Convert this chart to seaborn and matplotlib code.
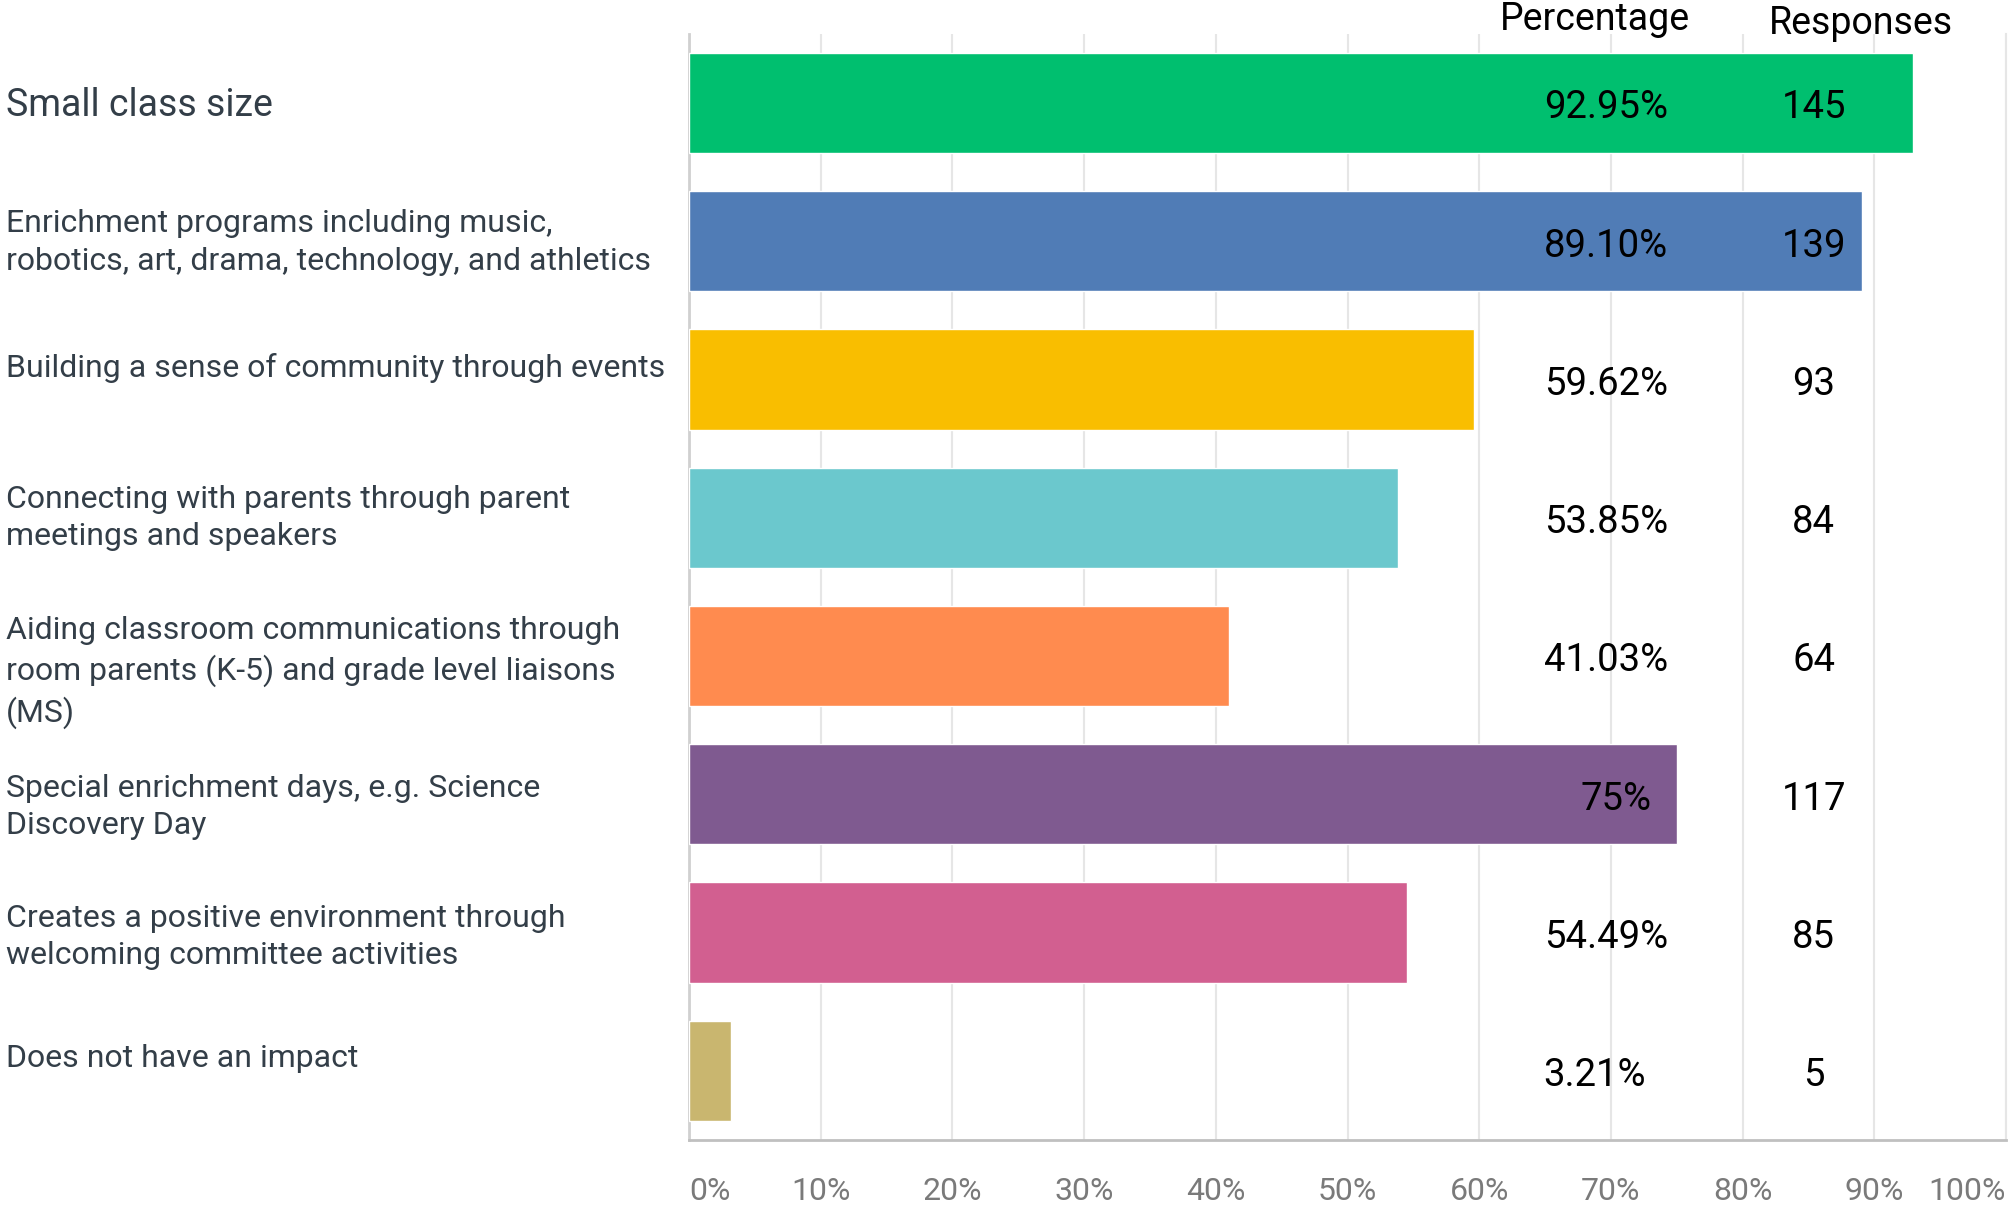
import matplotlib
matplotlib.use("Agg")
import matplotlib.pyplot as plt
import matplotlib.transforms as mtransforms
import seaborn as sns
import pandas as pd

# === Data ===
categories = [
    "Small class size",
    "Enrichment programs including music,\nrobotics, art, drama, technology, and athletics",
    "Building a sense of community through events",
    "Connecting with parents through parent\nmeetings and speakers",
    "Aiding classroom communications through\nroom parents (K-5) and grade level liaisons\n(MS)",
    "Special enrichment days, e.g. Science\nDiscovery Day",
    "Creates a positive environment through\nwelcoming committee activities",
    "Does not have an impact",
]
percentages = [92.95, 89.10, 59.62, 53.85, 41.03, 75.0, 54.49, 3.21]
pct_labels = ["92.95%", "89.10%", "59.62%", "53.85%", "41.03%", "75%", "54.49%", "3.21%"]
responses = [145, 139, 93, 84, 64, 117, 85, 5]
colors = ["#00bf6f", "#507cb6", "#f9be00", "#6bc8cd", "#ff8b4f", "#7f5a90", "#d25f90", "#c9b66f"]
xticks = [0, 10, 20, 30, 40, 50, 60, 70, 80, 90, 100]

df = pd.DataFrame({"category": categories, "pct": percentages})

# === Plot Settings ===
sns.set_style("white")
plt.rcParams["font.family"] = ["Roboto", "DejaVu Sans"]

fig = plt.figure(figsize=(20.13, 12.09), dpi=100)
ax = fig.add_axes([0.3423, 0.0571, 0.9965 - 0.3423, 0.972 - 0.0571])

sns.barplot(
    data=df, x="pct", y="category", hue="category",
    palette=colors, legend=False, width=0.725, orient="h",
    saturation=1, ax=ax, zorder=3,
)

ax.set_xlim(0, 100)
ax.set_ylim(len(categories) - 0.5, -0.5)
ax.set_xlabel("")
ax.set_ylabel("")

# === Grid & spines ===
ax.set_xticks(xticks)
ax.set_xticklabels([f"{t}%" for t in xticks], fontsize=23, color="#7a7a7a")
xt = ax.get_xticklabels()
xt[0].set_ha("left")
xt[-1].set_ha("right")
ax.grid(axis="x", color="#e6e6e6", linewidth=1.5, zorder=0)
ax.set_axisbelow(True)
ax.tick_params(axis="x", length=0, pad=27)
ax.tick_params(axis="y", length=0)
ax.set_yticklabels([])

ax.spines["top"].set_visible(False)
ax.spines["left"].set_color("#d0d0d0")
ax.spines["left"].set_linewidth(2)
ax.spines["bottom"].set_color("#c0c0c0")
ax.spines["bottom"].set_linewidth(2)
ax.spines["right"].set_color("#e6e6e6")
ax.spines["right"].set_linewidth(1.5)

# === Category labels (left-aligned at figure edge) ===
label_nudge = [0.02, 0.01, -0.08, 0.0, 0.12, 0.09, 0.03, -0.09]
trans = mtransforms.blended_transform_factory(fig.transFigure, ax.transData)
for i, cat in enumerate(categories):
    ax.text(0.003, i + label_nudge[i], cat, transform=trans, ha="left", va="center",
            fontsize=27 if i == 0 else 23, color="#333e48", linespacing=1.36,
            clip_on=False)

# === Value columns ===
pct_col_x = 64.9
for i, (lab, n) in enumerate(zip(pct_labels, responses)):
    x = pct_col_x + (2.8 if lab == "75%" else 0)
    ax.text(x, i + 0.035, lab, ha="left", va="center", fontsize=27.5, color="black", zorder=5)
    ax.text(85.4, i + 0.035, str(n), ha="center", va="center", fontsize=27.5, color="black", zorder=5)

ax.text(68.8, -0.53, "Percentage", ha="center", va="baseline", fontsize=27,
        color="black", clip_on=False)
ax.text(89.0, -0.50, "Responses", ha="center", va="baseline", fontsize=27,
        color="black", clip_on=False)

fig.savefig("out.png", dpi=100)
plt.close(fig)
